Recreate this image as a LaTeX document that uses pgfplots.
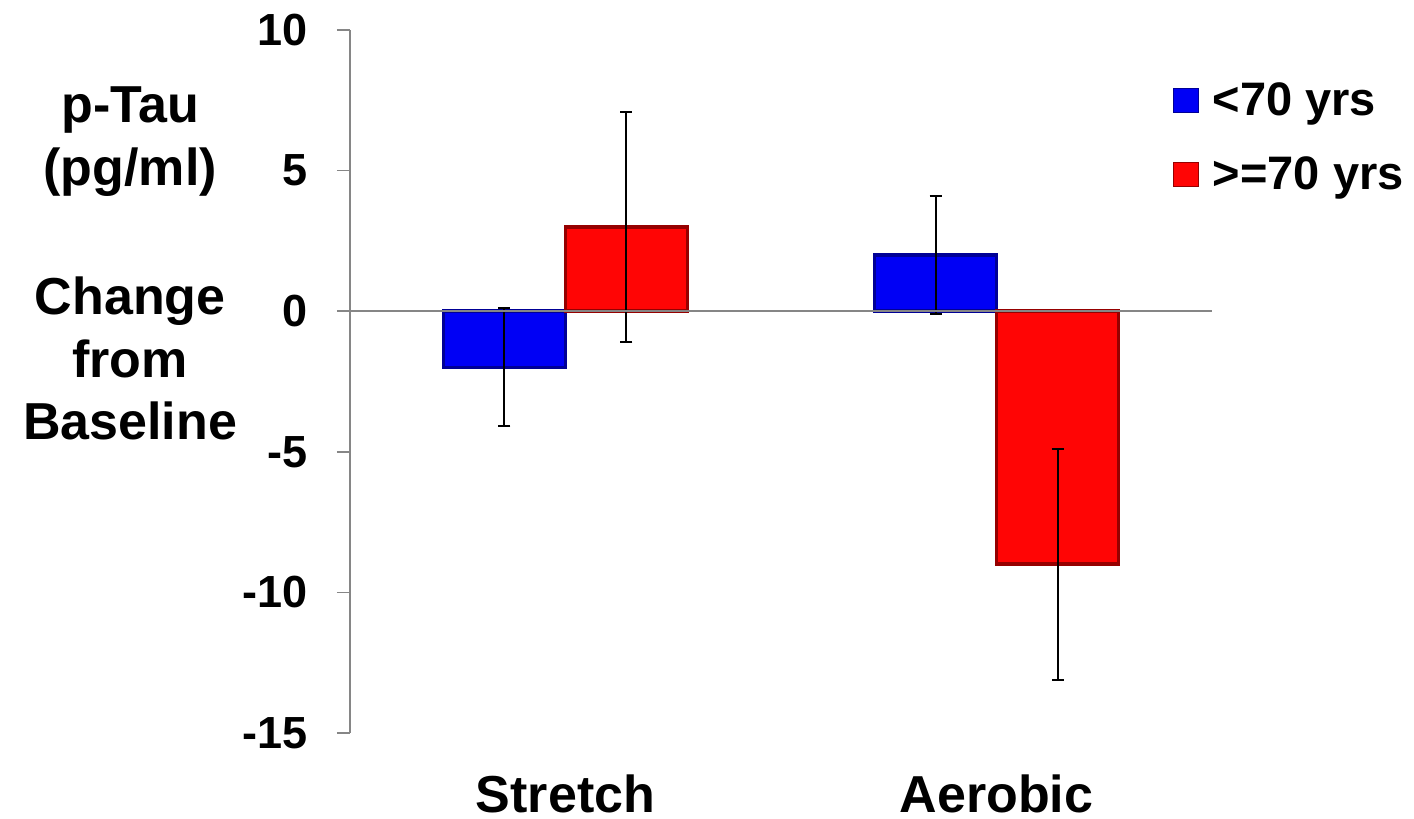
\documentclass[border=0pt]{standalone}
\usepackage{fontspec}
\setmainfont{Liberation Sans}
\usepackage{pgfplots}
\pgfplotsset{compat=1.18}
\definecolor{barblue}{RGB}{0,0,245}
\definecolor{barblueD}{RGB}{0,0,150}
\definecolor{barred}{RGB}{255,5,5}
\definecolor{barredD}{RGB}{150,0,0}
\definecolor{axgray}{RGB}{134,134,134}
\begin{document}
\begin{tikzpicture}
\begin{axis}[name=ax, at={(0,0)}, anchor=south west,
  scale only axis, width=431pt, height=351.5pt,
  xmin=-0.5, xmax=1.5, ymin=-15, ymax=10,
  axis lines*=left,
  x axis line style={draw=none},
  y axis line style={axgray, line width=0.8pt},
  ytick={-15,-10,-5,0,5,10}, yticklabels={-15,-10,-5,0,5,10},
  tick align=outside, major tick length=6.5pt,
  ytick style={axgray, line width=0.8pt},
  xtick={0,1}, xticklabels={Stretch,Aerobic}, xtick style={draw=none},
  xticklabel style={font=\bfseries\fontsize{26}{31}\selectfont, inner sep=0pt, anchor=north, yshift=-14pt},
  yticklabel style={font=\bfseries\fontsize{22.5}{27}\selectfont, inner sep=0pt, anchor=east, xshift=-14.5pt},
  ybar=0pt, bar width=61pt,
  legend style={draw=none, fill=none, at={(0.9541,0.9317)}, anchor=north west,
    font=\bfseries\fontsize{23.5}{28}\selectfont, row sep=15pt, inner sep=0pt,
    nodes={inner sep=2pt}, column sep=5pt},
  legend cell align=left,
  legend image code/.code={\draw[#1, line width=0.5pt] (0pt,-6pt) rectangle (12.5pt,6pt);},
  clip=false,
]
\addplot[fill=barblue, draw=barblueD, line width=1.8pt,
  error bars/.cd, y dir=both, y explicit,
  error bar style={black, line width=1pt},
  error mark options={black, line width=1pt, mark size=3pt, rotate=90}]
  coordinates {(0,-2) +- (0,2.1) (1,2) +- (0,2.1)};
\addplot[fill=barred, draw=barredD, line width=1.8pt,
  error bars/.cd, y dir=both, y explicit,
  error bar style={black, line width=1pt},
  error mark options={black, line width=1pt, mark size=3pt, rotate=90}]
  coordinates {(0,3) +- (0,4.1) (1,-9) +- (0,4.1)};
\legend{{<70 yrs},{>=70 yrs}}
\draw[axgray, line width=0.8pt] (axis cs:-0.5,0) -- (axis cs:1.5,0);
\node[font=\bfseries\fontsize{26}{31}\selectfont, anchor=base, inner sep=0pt] at (axis description cs:-0.255,0.869) {p-Tau};
\node[font=\bfseries\fontsize{26}{31}\selectfont, anchor=base, inner sep=0pt] at (axis description cs:-0.255,0.7795) {(pg/ml)};
\node[font=\bfseries\fontsize{26}{31}\selectfont, anchor=base, inner sep=0pt] at (axis description cs:-0.255,0.5946) {Change};
\node[font=\bfseries\fontsize{26}{31}\selectfont, anchor=base, inner sep=0pt] at (axis description cs:-0.255,0.5064) {from};
\node[font=\bfseries\fontsize{26}{31}\selectfont, anchor=base, inner sep=0pt] at (axis description cs:-0.255,0.4168) {Baseline};
\end{axis}
\pgfresetboundingbox
\path[use as bounding box] ([xshift=-175pt,yshift=-43pt]ax.south west) rectangle ++(707pt,409.5pt);
\end{tikzpicture}
\end{document}
